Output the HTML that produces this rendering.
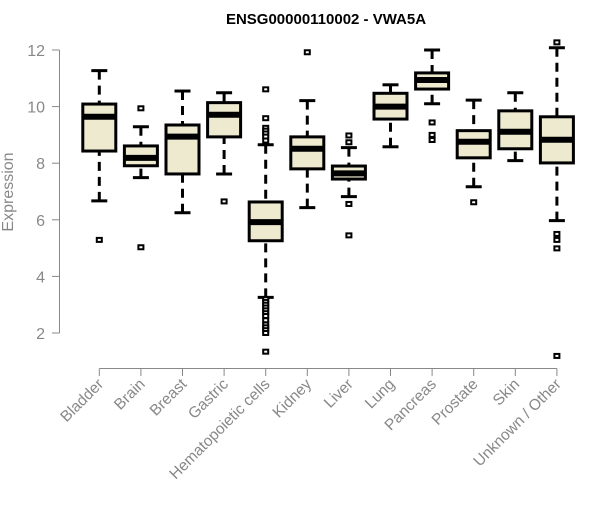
<!DOCTYPE html>
<html><head><meta charset="utf-8"><style>
body{margin:0;background:#fff}
svg{font-family:"Liberation Sans",sans-serif}
</style></head><body>
<svg id="chart" width="600" height="500">
<text x="326" y="24" text-anchor="middle" font-weight="bold" font-size="15" fill="#000">ENSG00000110002 - VWA5A</text>
<text transform="translate(13,192) rotate(-90)" text-anchor="middle" font-size="16" fill="#888">Expression</text>
<g id="axes"></g><g id="marks"></g>
</svg>
<script>
const categories=["Bladder","Brain","Breast","Gastric","Hematopoietic cells","Kidney","Liver","Lung","Pancreas","Prostate","Skin","Unknown / Other"];
const lowWhisker=[6.67,7.49,6.25,7.62,3.26,6.43,6.82,8.58,10.1,7.17,8.09,5.97];
const q1=[8.43,7.91,7.62,8.93,5.26,7.8,7.44,9.56,10.62,8.19,8.51,8.01];
const medians=[9.64,8.19,8.94,9.71,5.92,8.51,7.64,10.0,10.94,8.76,9.11,8.83];
const q3=[10.09,8.61,9.35,10.14,6.63,8.93,7.9,10.47,11.19,9.15,9.85,9.64];
const highWhisker=[11.27,9.29,10.55,10.49,8.65,10.21,8.55,10.77,12.0,10.23,10.49,12.08];
const outliers=[[5.29],[9.94,5.03],[],[6.65],
[10.61,9.59,9.25,9.15,9.05,8.94,8.8,3.2,3.1,3.0,2.9,2.8,2.7,2.6,2.45,2.3,2.2,2.1,2.0,1.34],
[11.92],[8.98,8.74,6.56,5.45],[],[9.44,9.0,8.82],[6.62],[],[12.27,5.5,5.29,4.99,1.19]];
const yTicks=[2,4,6,8,10,12];
const NS="http://www.w3.org/2000/svg";
const yS=v=>333-(v-2)*28.3;
const xS=i=>99.3+i*41.6;
function mk(tag,attrs,parent){const e=document.createElementNS(NS,tag);for(const k in attrs)e.setAttribute(k,attrs[k]);parent.appendChild(e);return e;}
const axes=document.getElementById('axes'),marks=document.getElementById('marks');
let ya=mk('line',{x1:59.5,x2:59.5,y1:yS(12),y2:yS(2),stroke:'#888'},axes);


yTicks.forEach(t=>{
 let l=mk('line',{x1:52,x2:59.5,y1:yS(t),y2:yS(t),stroke:'#888'},axes);
 
 
 let tx=mk('text',{x:45,y:yS(t)+6,'text-anchor':'end','font-size':16,fill:'#888'},axes);
 tx.textContent=t;
 
 
});
let xa=mk('line',{x1:xS(0),x2:xS(11),y1:368.5,y2:368.5,stroke:'#888'},axes);


categories.forEach((c,i)=>{
 const x=xS(i);
 let l=mk('line',{x1:x,x2:x,y1:368.5,y2:376,stroke:'#888'},axes);
 
 
 let tx=mk('text',{transform:`translate(${x+5},${385}) rotate(-45)`,'text-anchor':'end','font-size':15.5,fill:'#888'},axes);
 tx.textContent=c;
 
 
 const g=mk('g',{},marks);
 
 
 mk('line',{x1:x,x2:x,y1:yS(highWhisker[i]),y2:yS(q3[i]),stroke:'#000','stroke-width':3,'stroke-dasharray':'9,6'},g);
 mk('line',{x1:x,x2:x,y1:yS(lowWhisker[i]),y2:yS(q1[i]),stroke:'#000','stroke-width':3,'stroke-dasharray':'9,6'},g);
 mk('line',{x1:x-8,x2:x+8,y1:yS(highWhisker[i]),y2:yS(highWhisker[i]),stroke:'#000','stroke-width':3},g);
 mk('line',{x1:x-8,x2:x+8,y1:yS(lowWhisker[i]),y2:yS(lowWhisker[i]),stroke:'#000','stroke-width':3},g);
 mk('rect',{x:x-16.5,y:yS(q3[i]),width:33,height:yS(q1[i])-yS(q3[i]),fill:'#eeead0',stroke:'#000','stroke-width':3},g);
 mk('line',{x1:x-16.5,x2:x+16.5,y1:yS(medians[i]),y2:yS(medians[i]),stroke:'#000','stroke-width':6},g);
 outliers[i].forEach(v=>{
  let r=mk('rect',{x:x-2.5,y:yS(v)-2,width:5,height:4,fill:'#fff',stroke:'#000','stroke-width':2},g);
  
  
 });
});
</script>
</body></html>
